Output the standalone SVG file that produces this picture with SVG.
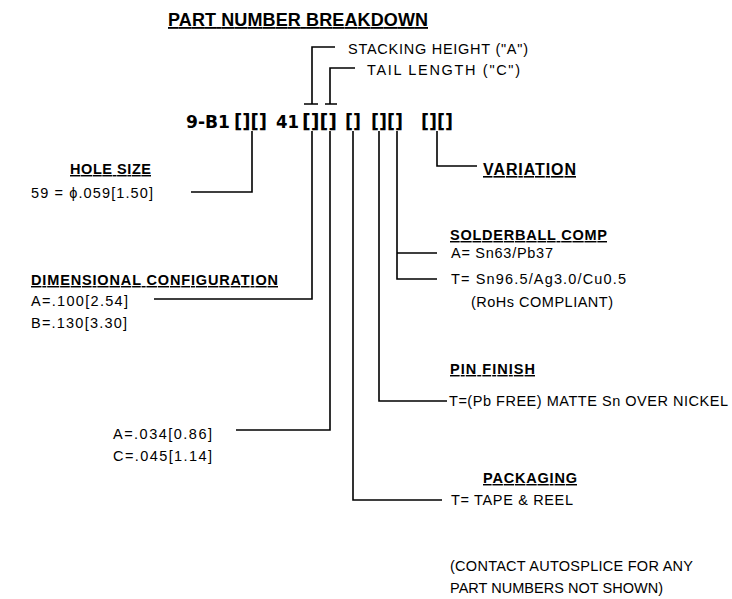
<svg xmlns="http://www.w3.org/2000/svg" width="732" height="599" viewBox="0 0 732 599">
<style>
text{font-family:"Liberation Sans",Arial,sans-serif;fill:#000}
.t{font-size:14.5px}
.h{font-size:14.5px;font-weight:bold;text-decoration:underline}
.pn{font-family:"DejaVu Sans",Verdana,sans-serif;font-size:18.5px;font-weight:bold}
.br{font-family:"DejaVu Sans",Verdana,sans-serif;font-size:19.5px;font-weight:bold;text-decoration:underline}
.c{fill:none;stroke:#000;stroke-width:1.6}
</style>
<rect width="732" height="599" fill="#fff"/>
<g id="title"><text x="168" y="26" style="font-size:18px;font-weight:bold;text-decoration:underline" textLength="260" lengthAdjust="spacing">PART NUMBER BREAKDOWN</text></g>
<g id="part-number">
<text class="pn" x="186" y="128" textLength="44" lengthAdjust="spacingAndGlyphs">9-B1</text>
<text class="br" x="234" y="128" textLength="33" lengthAdjust="spacingAndGlyphs">[][]</text>
<text class="pn" x="276" y="128" textLength="23" lengthAdjust="spacingAndGlyphs">41</text>
<text class="br" x="302" y="128" textLength="35" lengthAdjust="spacingAndGlyphs">[][]</text>
<text class="br" x="345" y="128" textLength="16" lengthAdjust="spacingAndGlyphs">[]</text>
<text class="br" x="371" y="128" textLength="32" lengthAdjust="spacingAndGlyphs">[][]</text>
<text class="br" x="421" y="128" textLength="32" lengthAdjust="spacingAndGlyphs">[][]</text>
</g>
<g id="stacking-height"><text class="t" x="348" y="54" textLength="180" lengthAdjust="spacing">STACKING HEIGHT ("A")</text></g>
<g id="tail-length"><text class="t" x="367" y="75" textLength="153" lengthAdjust="spacing">TAIL LENGTH ("C")</text></g>
<g id="hole-size">
<text class="h" x="70" y="174" textLength="81" lengthAdjust="spacing">HOLE SIZE</text>
<text class="t" x="31" y="198" textLength="122" lengthAdjust="spacing">59 = ϕ.059[1.50]</text>
</g>
<g id="dimensional-configuration">
<text class="h" x="31" y="285" textLength="247" lengthAdjust="spacing">DIMENSIONAL CONFIGURATION</text>
<text class="t" x="31" y="306" textLength="97" lengthAdjust="spacing">A=.100[2.54]</text>
<text class="t" x="31" y="328" textLength="96" lengthAdjust="spacing">B=.130[3.30]</text>
</g>
<g id="tail-values">
<text class="t" x="113" y="439" textLength="99" lengthAdjust="spacing">A=.034[0.86]</text>
<text class="t" x="113" y="461" textLength="99" lengthAdjust="spacing">C=.045[1.14]</text>
</g>
<g id="variation"><text x="483" y="175" style="font-size:16px;font-weight:bold;text-decoration:underline" textLength="93" lengthAdjust="spacing">VARIATION</text></g>
<g id="solderball-comp">
<text class="h" x="450" y="240" textLength="157" lengthAdjust="spacing">SOLDERBALL COMP</text>
<text class="t" x="451" y="258" textLength="102" lengthAdjust="spacing">A= Sn63/Pb37</text>
<text class="t" x="451" y="284" textLength="175" lengthAdjust="spacing">T= Sn96.5/Ag3.0/Cu0.5</text>
<text class="t" x="471" y="307" textLength="142" lengthAdjust="spacing">(RoHs COMPLIANT)</text>
</g>
<g id="pin-finish">
<text class="h" x="450" y="374" textLength="85" lengthAdjust="spacing">PIN FINISH</text>
<text class="t" x="449" y="406" textLength="279" lengthAdjust="spacing">T=(Pb FREE) MATTE Sn OVER NICKEL</text>
</g>
<g id="packaging">
<text class="h" x="483" y="483" textLength="94" lengthAdjust="spacing">PACKAGING</text>
<text class="t" x="451" y="505" textLength="122" lengthAdjust="spacing">T= TAPE &amp; REEL</text>
</g>
<g id="note">
<text class="t" x="450" y="571" textLength="243" lengthAdjust="spacing">(CONTACT AUTOSPLICE FOR ANY</text>
<text class="t" x="450" y="593" textLength="213" lengthAdjust="spacing">PART NUMBERS NOT SHOWN)</text>
</g>
<g id="connectors" class="c">
<path d="M304,104H318M325,104H337"/>
<path d="M312,104V47H335"/>
<path d="M330,104V68H355"/>
<path d="M252,131V192H191"/>
<path d="M312,131V299H154"/>
<path d="M330,131V430H236"/>
<path d="M353,131V500H442"/>
<path d="M379,131V401H447"/>
<path d="M397,131V279H437M397,253H437"/>
<path d="M437,131V166H477"/>
</g>
</svg>
